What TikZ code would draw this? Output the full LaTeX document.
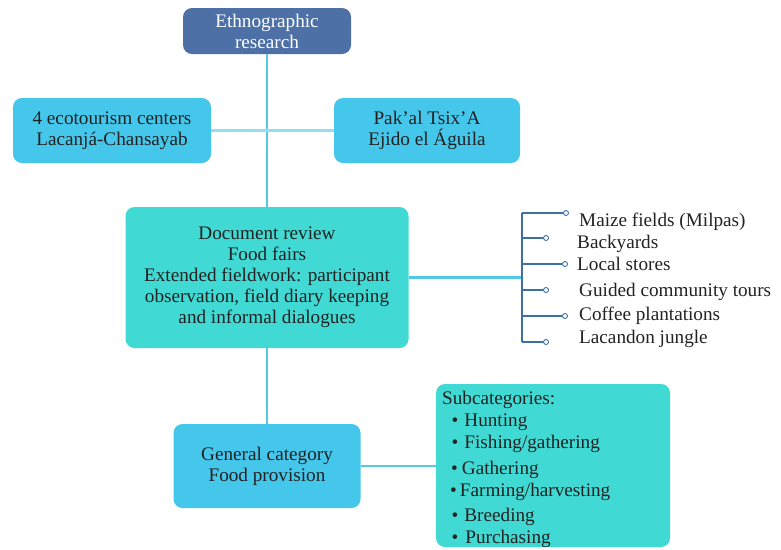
\documentclass[tikz,border=0pt]{standalone}
\usepackage{fontspec}
\setmainfont{Liberation Serif}
\definecolor{ethblue}{HTML}{4D70A7}
\definecolor{skyblue}{HTML}{45C6EB}
\definecolor{turq}{HTML}{40D9D4}
\definecolor{linkblue}{HTML}{55C8E8}
\definecolor{faintblue}{HTML}{93DFEF}
\definecolor{brackblue}{HTML}{3E6FA6}
\definecolor{textdark}{HTML}{222222}
\begin{document}
\begin{tikzpicture}
	[
	x=1pt, y=-1pt,
	align=center,
	font=\fontsize{19.2}{21}\selectfont,
	box/.style={rounded corners=9pt, inner sep=0pt, text=textdark},
	topbox/.style={box, fill=ethblue, text=white},
	bluebox/.style={box, fill=skyblue},
	turqbox/.style={box, fill=turq},
	link/.style={draw=linkblue, line width=2.2pt},
	faint/.style={draw=faintblue, line width=2.2pt},
	brack/.style={draw=brackblue, line width=1.3pt},
	tip/.style={circle, draw=brackblue, fill=white, line width=0.9pt, inner sep=0pt, minimum size=5pt},
	item/.style={anchor=base west, inner sep=0pt, text=textdark}
	]
		\useasboundingbox (0,0) rectangle (781,549);

		% boxes
		\node (eth) [topbox, minimum width=168, minimum height=46] at (267, 31) {Ethnographic\\research};
		\node (eco) [bluebox, minimum width=198, minimum height=65] at (112, 130.5) {4 ecotourism centers\\Lacanjá-Chansayab};
		\node (pak) [bluebox, minimum width=186, minimum height=65] at (427, 130.5) {Pak’al Tsix’A\\Ejido el Águila};
		\node (doc) [turqbox, minimum width=283, minimum height=141] at (267, 277.5) {Document review\\Food fairs\\Extended fieldwork: participant\\observation, field diary keeping\\and informal dialogues};
		\node (gen) [bluebox, minimum width=187, minimum height=84] at (267, 466) {General category\\Food provision};
		\node (sub) [turqbox, minimum width=234, minimum height=163] at (553, 465.5) {};
		\node (subtxt) [anchor=north west, align=left, inner sep=0pt, text=textdark,
			font=\fontsize{19.2}{22}\selectfont] at (442, 391)
			{Subcategories:\\
			\hspace*{9.5pt}\textbullet\hspace{6pt}Hunting\\
			\hspace*{9.5pt}\textbullet\hspace{6pt}Fishing/gathering\\[4pt]
			\hspace*{9pt}\textbullet\hspace{4pt}Gathering\\
			\hspace*{8pt}\textbullet\hspace{3pt}Farming/harvesting\\[3pt]
			\hspace*{9.5pt}\textbullet\hspace{6pt}Breeding\\
			\hspace*{9.5pt}\textbullet\hspace{7pt}Purchasing};

		% connectors
		\draw [link] (eth.south) -- (doc.north);
		\draw [faint] (eco.east) -- (pak.west);
		\draw [link] (doc.south) -- (gen.north);
		\draw [link] (gen.east) -- (gen.east -| sub.west);

		% bracket
		\coordinate (brk) at (522, 277.5);
		\coordinate (brtop) at (522, 213);
		\coordinate (brbot) at (522, 342);
		\draw [link] (doc.east) -- (brk);
		\draw [brack] (brtop) -- (brbot);
		\foreach \i/\y/\e/\lx/\ly/\t in {
			1/213/566/579/226/Maize fields (Milpas),
			2/238/546/577/248/Backyards,
			3/264/565/577/270/Local stores,
			4/290/546/579/296/Guided community tours,
			5/316/565/579/320/Coffee plantations,
			6/342/546/579/343/Lacandon jungle}
		{
			\coordinate (b\i) at (522, \y);
			\node (tip\i) [tip] at (\e, \y) {};
			\draw [brack] (b\i) -- (tip\i);
			\node (lbl\i) [item] at (\lx, \ly) {\t};
		}
\end{tikzpicture}
\end{document}
